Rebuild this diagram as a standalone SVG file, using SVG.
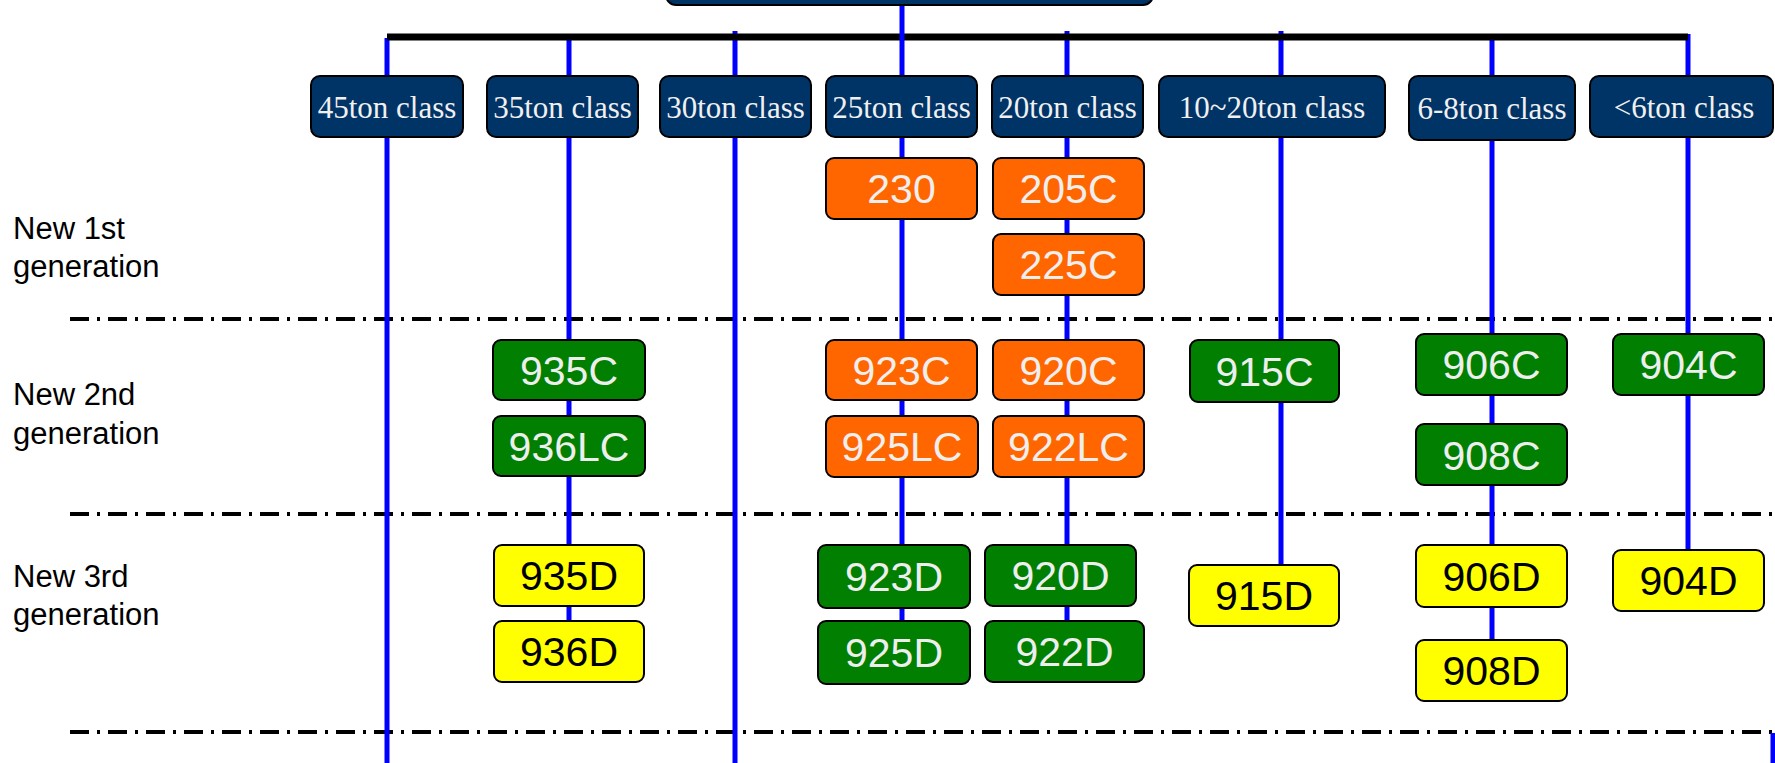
<svg xmlns="http://www.w3.org/2000/svg" width="1775" height="763" viewBox="0 0 1775 763">
<style>
.hdr{fill:#003366;stroke:#000;stroke-width:2}
.ht{font-family:"Liberation Serif","Times New Roman",serif;font-size:31px;fill:#f0f0f0;text-anchor:middle}
.or{fill:#FF6600;stroke:#000;stroke-width:2}
.gr{fill:#007F00;stroke:#000;stroke-width:2}
.ye{fill:#FFFF00;stroke:#000;stroke-width:2}
.lt{font-family:"Liberation Sans",Arial,sans-serif;font-size:41px;fill:#eeeeee;text-anchor:middle}
.dt{font-family:"Liberation Sans",Arial,sans-serif;font-size:41px;fill:#000;text-anchor:middle}
.gen{font-family:"Liberation Sans",Arial,sans-serif;font-size:31px;fill:#000}
.bl{stroke:#0000FF;stroke-width:5;fill:none}
.dd{stroke:#000;stroke-width:4;stroke-dasharray:19 8 3 8;fill:none}
</style>
<rect width="1775" height="763" fill="#fff"/>
<g id="separators">
<line class="dd" x1="70" y1="319" x2="1775" y2="319"/>
<line class="dd" x1="70" y1="514" x2="1775" y2="514"/>
<line class="dd" x1="70" y1="732" x2="1775" y2="732"/>
</g>
<g id="connectors">
<line class="bl" x1="387" y1="38" x2="387" y2="763"/>
<line class="bl" x1="569" y1="40" x2="569" y2="640"/>
<line class="bl" x1="735" y1="31" x2="735" y2="763"/>
<line class="bl" x1="1067" y1="31" x2="1067" y2="640"/>
<line class="bl" x1="1281" y1="31" x2="1281" y2="580"/>
<line class="bl" x1="1492" y1="40" x2="1492" y2="660"/>
<line class="bl" x1="1688" y1="34" x2="1688" y2="570"/>
<line class="bl" x1="1773" y1="733" x2="1773" y2="763"/>
<line x1="387" y1="37" x2="1688" y2="37" stroke="#000" stroke-width="7"/>
<line class="bl" x1="902" y1="0" x2="902" y2="640"/>
</g>
<g id="top"><rect class="hdr" x="666" y="-20" width="487" height="25" rx="10"/></g>
<g id="h45"><rect class="hdr" x="311" y="76" width="152" height="61" rx="9"/><text class="ht" x="387" y="118">45ton class</text></g>
<g id="h35"><rect class="hdr" x="487" y="76" width="151" height="61" rx="9"/><text class="ht" x="562.5" y="118">35ton class</text></g>
<g id="h30"><rect class="hdr" x="660" y="76" width="151" height="61" rx="9"/><text class="ht" x="735.5" y="118">30ton class</text></g>
<g id="h25"><rect class="hdr" x="826" y="76" width="151" height="61" rx="9"/><text class="ht" x="901.5" y="118">25ton class</text></g>
<g id="h20"><rect class="hdr" x="992" y="76" width="151" height="61" rx="9"/><text class="ht" x="1067.5" y="118">20ton class</text></g>
<g id="h10"><rect class="hdr" x="1159" y="76" width="226" height="61" rx="9"/><text class="ht" x="1272" y="118">10~20ton class</text></g>
<g id="h68"><rect class="hdr" x="1409" y="76" width="166" height="64" rx="9"/><text class="ht" x="1492" y="119">6-8ton class</text></g>
<g id="h6"><rect class="hdr" x="1590" y="76" width="183" height="61" rx="9"/><text class="ht" x="1684" y="118">&lt;6ton class</text></g>
<g id="gen1"><text class="gen" x="13" y="239">New 1st</text><text class="gen" x="13" y="277">generation</text></g>
<g id="gen2"><text class="gen" x="13" y="405">New 2nd</text><text class="gen" x="13" y="444">generation</text></g>
<g id="gen3"><text class="gen" x="13" y="587">New 3rd</text><text class="gen" x="13" y="625">generation</text></g>
<g id="n230"><rect class="or" x="826" y="158" width="151" height="61" rx="8"/><text class="lt" x="901.5" y="203">230</text></g>
<g id="n205C"><rect class="or" x="993" y="158" width="151" height="61" rx="8"/><text class="lt" x="1068.5" y="203">205C</text></g>
<g id="n225C"><rect class="or" x="993" y="234" width="151" height="61" rx="8"/><text class="lt" x="1068.5" y="279">225C</text></g>
<g id="n935C"><rect class="gr" x="493" y="340" width="152" height="60" rx="8"/><text class="lt" x="569" y="385">935C</text></g>
<g id="n936LC"><rect class="gr" x="493" y="416" width="152" height="60" rx="8"/><text class="lt" x="569" y="461">936LC</text></g>
<g id="n923C"><rect class="or" x="826" y="340" width="151" height="60" rx="8"/><text class="lt" x="901.5" y="385">923C</text></g>
<g id="n920C"><rect class="or" x="993" y="340" width="151" height="60" rx="8"/><text class="lt" x="1068.5" y="385">920C</text></g>
<g id="n925LC"><rect class="or" x="826" y="416" width="152" height="61" rx="8"/><text class="lt" x="902" y="461">925LC</text></g>
<g id="n922LC"><rect class="or" x="993" y="416" width="151" height="61" rx="8"/><text class="lt" x="1068.5" y="461">922LC</text></g>
<g id="n915C"><rect class="gr" x="1190" y="340" width="149" height="62" rx="8"/><text class="lt" x="1264.5" y="386">915C</text></g>
<g id="n906C"><rect class="gr" x="1416" y="334" width="151" height="61" rx="8"/><text class="lt" x="1491.5" y="379">906C</text></g>
<g id="n904C"><rect class="gr" x="1613" y="334" width="151" height="61" rx="8"/><text class="lt" x="1688.5" y="379">904C</text></g>
<g id="n908C"><rect class="gr" x="1416" y="424" width="151" height="61" rx="8"/><text class="lt" x="1491.5" y="470">908C</text></g>
<g id="n935D"><rect class="ye" x="494" y="545" width="150" height="61" rx="8"/><text class="dt" x="569" y="590">935D</text></g>
<g id="n936D"><rect class="ye" x="494" y="621" width="150" height="61" rx="8"/><text class="dt" x="569" y="666">936D</text></g>
<g id="n923D"><rect class="gr" x="818" y="545" width="152" height="63" rx="8"/><text class="lt" x="894" y="591">923D</text></g>
<g id="n925D"><rect class="gr" x="818" y="621" width="152" height="63" rx="8"/><text class="lt" x="894" y="667">925D</text></g>
<g id="n920D"><rect class="gr" x="985" y="545" width="151" height="61" rx="8"/><text class="lt" x="1060.5" y="590">920D</text></g>
<g id="n922D"><rect class="gr" x="985" y="621" width="159" height="61" rx="8"/><text class="lt" x="1064.5" y="666">922D</text></g>
<g id="n915D"><rect class="ye" x="1189" y="565" width="150" height="61" rx="8"/><text class="dt" x="1264" y="610">915D</text></g>
<g id="n906D"><rect class="ye" x="1416" y="545" width="151" height="62" rx="8"/><text class="dt" x="1491.5" y="591">906D</text></g>
<g id="n908D"><rect class="ye" x="1416" y="640" width="151" height="61" rx="8"/><text class="dt" x="1491.5" y="685">908D</text></g>
<g id="n904D"><rect class="ye" x="1613" y="550" width="151" height="61" rx="8"/><text class="dt" x="1688.5" y="595">904D</text></g>
</svg>
